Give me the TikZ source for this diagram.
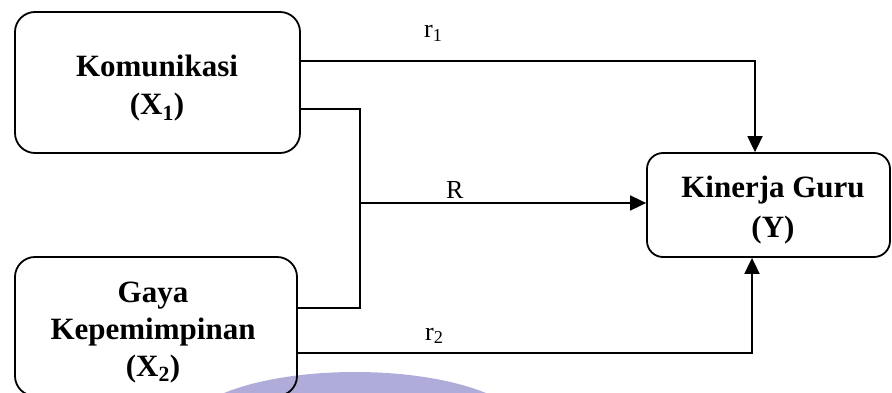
\documentclass[tikz,border=0pt]{standalone}
\usepackage{fontspec}
\setmainfont{Liberation Serif}
\usetikzlibrary{arrows.meta}
\definecolor{wm}{RGB}{176,172,218}
\begin{document}
\begin{tikzpicture}[x=1pt,y=-1pt,
  var/.style={draw,line width=1.8pt,rounded corners=20pt,inner sep=0pt},
  vtxt/.style={anchor=base,inner sep=0pt,font=\fontsize{31}{37}\bfseries\selectfont},
  link/.style={line width=1.8pt},
  arr/.style={link,-{Triangle[length=16pt,width=15pt]}},
  lab/.style={font=\fontsize{26}{30}\selectfont,inner sep=0pt}]
\useasboundingbox (0,0) rectangle (892,393);
\clip (0,0) rectangle (892,393);
% faint logo in the background
\fill[wm] (355,430) ellipse [x radius=170, y radius=58];
% variable boxes
\node[var,minimum width=285pt,minimum height=141pt] (x1) at (157.5,82.5) {};
\node[var,minimum width=282pt,minimum height=139pt] (x2) at (156,326.5) {};
\node[var,rounded corners=16pt,minimum width=243pt,minimum height=104pt] (ky) at (768.5,205) {};
% box texts, one node per line
\node[vtxt] (x1a) at (157,77) {Komunikasi};
\node[vtxt] (x1b) at (157,115) {(X\textsubscript{1})};
\node[vtxt] (x2a) at (153,302) {Gaya};
\node[vtxt] (x2b) at (153,339) {Kepemimpinan};
\node[vtxt] (x2c) at (153,376) {(X\textsubscript{2})};
\node[vtxt] (kya) at (773,197) {Kinerja Guru};
\node[vtxt] (kyb) at (773,237) {(Y)};
% junction of the joint effect
\coordinate (jn) at (360,203);
% connectors
\draw[arr] ([yshift=21.5pt]x1.east) -| ([xshift=-13.5pt]ky.north);
\draw[link] ([yshift=-26.5pt]x1.east) -| (jn) |- ([yshift=18.5pt]x2.east);
\draw[arr] (jn) -- (jn -| ky.west);
\draw[arr] ([yshift=-26.5pt]x2.east) -| ([xshift=-16.5pt]ky.south);
% labels
\node[lab,anchor=base west] (l1) at (424,38) {r\textsubscript{1}};
\node[lab,anchor=base west] (lr) at (446,199) {R};
\node[lab,anchor=base west] (l2) at (425,340) {r\textsubscript{2}};
\end{tikzpicture}
\end{document}
